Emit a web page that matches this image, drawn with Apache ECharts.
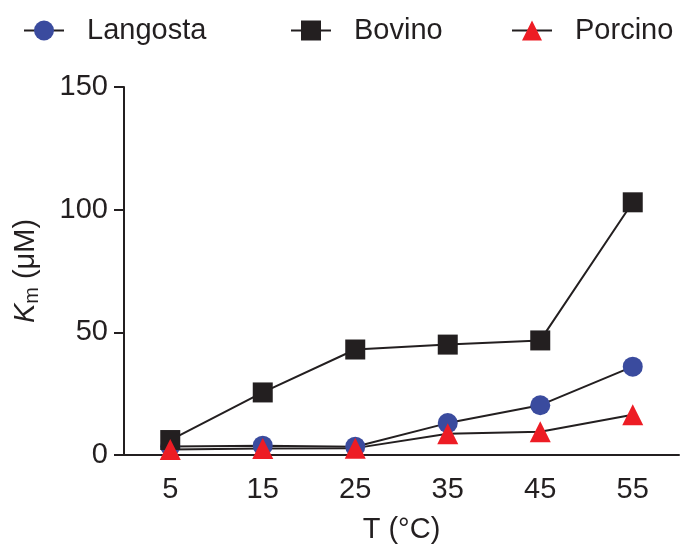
<!DOCTYPE html>
<html>
<head>
<meta charset="utf-8">
<script src="https://cdn.jsdelivr.net/npm/echarts@6/dist/echarts.min.js"></script>
<style>html,body{margin:0;padding:0;background:#fff}#c{width:680px;height:549px}</style>
</head>
<body>
<div id="c"></div>
<script>
const categories = ['5', '15', '25', '35', '45', '55'];
const langosta = [3.5, 3.8, 3.4, 13, 20.3, 36];
const bovino = [6.1, 25.5, 43, 45, 46.7, 103];
const porcino = [2.2, 2.6, 2.8, 8.7, 9.5, 16.4];
const yTicks = [0, 50, 100, 150];

const FONT = '"Liberation Sans", Arial, Helvetica, sans-serif';
const INK = '#231f20';
const chart = echarts.init(document.getElementById('c'));

function legendAt(left, name) {
  return {
    left: left, top: 16, orient: 'horizontal', padding: 0,
    data: [name],
    itemWidth: 40, itemHeight: 25,
    lineStyle: { width: 2, color: INK },
    textStyle: { fontFamily: FONT, fontSize: 29, color: INK, padding: [0, 0, 0, 18] },
    selectedMode: false
  };
}

function series(name, data, symbol, color, size) {
  return {
    name: name, type: 'line', data: data,
    symbol: symbol, symbolSize: size,
    itemStyle: { color: color },
    lineStyle: { color: INK, width: 2 },
    emphasis: { disabled: true },
    animation: false
  };
}

chart.setOption({
  animation: false,
  legend: [legendAt(23, 'Langosta'), legendAt(290, 'Bovino'), legendAt(511, 'Porcino')],
  grid: { left: 124, right: 1, top: 87, bottom: 91, containLabel: false },
  xAxis: {
    type: 'category', data: categories, boundaryGap: true,
    name: 'T (°C)', nameLocation: 'middle', nameGap: 60,
    nameTextStyle: { fontFamily: FONT, fontSize: 29, color: INK },
    axisLine: { lineStyle: { color: INK, width: 2 } },
    axisTick: { alignWithLabel: true, length: 10, lineStyle: { color: INK, width: 2 } },
    axisLabel: { fontFamily: FONT, fontSize: 29, color: INK, margin: 20 },
    splitLine: { show: false }
  },
  yAxis: {
    type: 'value', min: 0, max: 150, interval: 50,
    name: '{k|K}{s|m} (μM)', nameLocation: 'middle', nameGap: 82, nameRotate: 90,
    nameTextStyle: {
      fontFamily: FONT, fontSize: 29, color: INK,
      rich: {
        k: { fontFamily: FONT, fontSize: 29, fontStyle: 'italic', color: INK },
        s: { fontFamily: FONT, fontSize: 20, color: INK, padding: [12, 0, 0, 0] }
      }
    },
    axisLine: { show: true, lineStyle: { color: INK, width: 2 } },
    axisTick: { show: true, length: 10, lineStyle: { color: INK, width: 2 } },
    axisLabel: {
      fontFamily: FONT, fontSize: 29, color: INK, margin: 16,
      formatter: v => yTicks.includes(v) ? String(v) : ''
    },
    splitLine: { show: false }
  },
  series: [
    series('Langosta', langosta, 'circle', '#3a4b9e', 20),
    series('Bovino', bovino, 'rect', INK, 20),
    series('Porcino', porcino, 'triangle', '#ed1c24', 21)
  ]
});
</script>
</body>
</html>
